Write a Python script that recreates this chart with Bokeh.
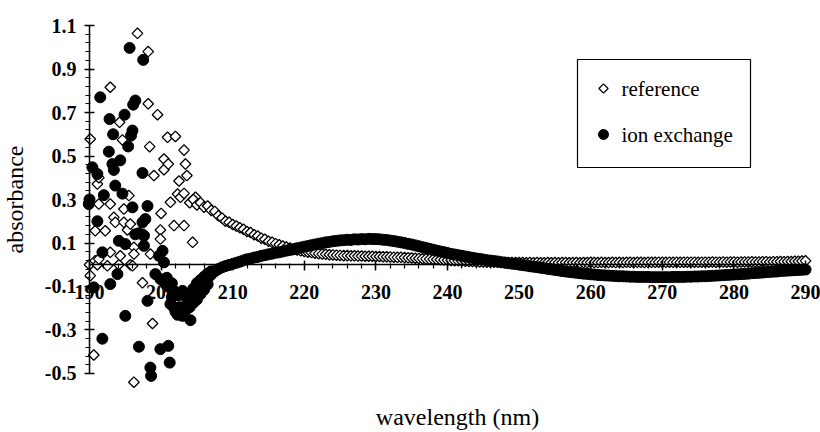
import numpy as np
from bokeh.plotting import figure
from bokeh.models import LinearAxis, FixedTicker, Range1d, Label, PrintfTickFormatter
from bokeh.core.properties import value
from bokeh.embed import file_html
from bokeh.resources import INLINE

# ---- data -------------------------------------------------------------
# Noisy low-wavelength region (190-205 nm), reference sample
ref_noise_x = [190.0, 190.1, 190.1, 190.6, 190.8, 190.8, 191.1, 191.1, 191.3, 191.3,
               191.3, 192.2, 192.5, 192.9, 192.9, 192.9, 193.4, 193.6, 194.1, 194.2,
               194.3, 194.6, 194.8, 194.8, 195.3, 195.5, 195.7, 195.7, 196.0, 196.2,
               196.2, 196.2, 196.7, 197.4, 197.6, 198.2, 198.2, 198.4, 198.5, 198.8,
               199.0, 199.5, 199.9, 199.9, 200.0, 200.4, 200.4, 200.9, 201.0, 201.3,
               201.8, 202.0, 202.3, 202.5, 202.7, 203.2, 203.2, 203.2, 203.4, 203.6,
               204.4, 204.8]
ref_noise_y = [0.000, -0.050, 0.578, -0.415, 0.018, 0.156, 0.000, 0.371, 0.400, 0.026,
               0.279, 0.156, -0.005, 0.816, 0.279, 0.057, 0.218, 0.195, 0.000, 0.655,
               0.041, 0.574, 0.256, 0.195, 0.160, 0.318, 0.187, 0.000, -0.005, 0.080,
               0.049, -0.540, 1.064, -0.083, 0.140, 0.980, 0.740, 0.543, 0.049, -0.270,
               0.410, 0.690, 0.160, 0.118, 0.236, 0.486, 0.437, 0.586, 0.463, 0.287,
               0.180, 0.590, 0.325, 0.385, 0.310, 0.527, 0.328, 0.180, 0.463, 0.410,
               0.103, 0.310]

# Noisy low-wavelength region (190-207 nm), ion exchange sample
ion_noise_x = [189.9, 190.0, 190.4, 190.6, 191.1, 191.1, 191.5, 191.8, 191.8, 192.0,
               192.7, 192.8, 192.9, 193.2, 193.3, 193.4, 193.6, 193.9, 194.1, 194.3,
               194.6, 194.9, 195.0, 195.0, 195.4, 195.6, 195.8, 196.0, 196.0, 196.1,
               196.4, 196.4, 196.9, 196.9, 197.4, 197.4, 197.5, 197.6, 197.6, 197.8,
               198.1, 198.1, 198.5, 198.6, 199.2, 199.7, 199.9, 199.9, 200.2, 200.4,
               200.6, 201.0, 201.2, 201.3, 201.5, 201.8, 201.8, 202.3, 202.4, 202.7,
               203.0, 203.0, 203.4, 203.5, 204.1, 202.0, 202.5, 203.0, 203.5, 204.0,
               204.5, 205.0, 205.5, 206.0, 206.5, 204.5, 205.0, 205.5, 206.0, 206.5,
               207.0, 201.0, 201.5, 200.8]
ion_noise_y = [0.279, 0.300, 0.448, -0.104, 0.417, 0.200, 0.770, 0.057, -0.340, 0.320,
               0.520, 0.670, -0.089, 0.463, 0.600, 0.436, 0.364, -0.043, 0.110, 0.480,
               0.327, 0.690, 0.095, -0.235, 0.544, 0.997, 0.594, 0.617, 0.264, 0.736,
               0.755, 0.140, 0.145, -0.377, 0.422, 0.195, 0.942, 0.087, 0.133, 0.210,
               0.270, -0.166, -0.473, -0.511, -0.043, 0.041, -0.066, -0.388, 0.064, 0.011,
               -0.089, -0.373, -0.450, -0.181, -0.150, -0.196, -0.120, -0.230, -0.140, -0.220,
               -0.196, -0.120, -0.210, -0.150, -0.255, -0.215, -0.195, -0.235, -0.205, -0.195,
               -0.175, -0.160, -0.135, -0.115, -0.090, -0.110, -0.085, -0.070, -0.055, -0.040,
               -0.030, -0.100, -0.085, -0.060]

# Smooth region, 204-290 nm sampled every 0.5 nm
wl_start, wl_step = 204.0, 0.5

ref_smooth = [0.285, 0.300, 0.275, 0.285, 0.265, 0.270, 0.250, 0.245, 0.225, 0.215,
              0.200, 0.195, 0.185, 0.178, 0.170, 0.163, 0.153, 0.148, 0.138, 0.132,
              0.122, 0.117, 0.108, 0.103, 0.097, 0.092, 0.086, 0.081, 0.077, 0.072,
              0.068, 0.064, 0.061, 0.058, 0.056, 0.053, 0.051, 0.049, 0.048, 0.046,
              0.045, 0.044, 0.043, 0.042, 0.042, 0.041, 0.041, 0.040, 0.040, 0.039,
              0.039, 0.039, 0.038, 0.038, 0.037, 0.037, 0.036, 0.035, 0.034, 0.034,
              0.033, 0.032, 0.031, 0.030, 0.029, 0.028, 0.027, 0.026, 0.025, 0.024,
              0.023, 0.022, 0.021, 0.020, 0.019, 0.018, 0.017, 0.016, 0.015, 0.015,
              0.014, 0.013, 0.013, 0.012, 0.012, 0.011, 0.011, 0.010, 0.010, 0.010,
              0.010, 0.010, 0.010, 0.010, 0.009, 0.010, 0.009, 0.010, 0.009, 0.009,
              0.010, 0.009, 0.010, 0.009, 0.010, 0.010, 0.009, 0.010, 0.010, 0.009,
              0.010, 0.010, 0.011, 0.010, 0.010, 0.011, 0.010, 0.010, 0.011, 0.010,
              0.011, 0.010, 0.011, 0.011, 0.010, 0.011, 0.011, 0.010, 0.011, 0.011,
              0.011, 0.012, 0.011, 0.011, 0.012, 0.011, 0.012, 0.011, 0.012, 0.012,
              0.012, 0.012, 0.011, 0.012, 0.012, 0.012, 0.013, 0.012, 0.012, 0.013,
              0.012, 0.013, 0.013, 0.012, 0.013, 0.013, 0.013, 0.014, 0.013, 0.013,
              0.014, 0.014, 0.013, 0.014, 0.014, 0.015, 0.014, 0.015, 0.015, 0.016,
              0.016, 0.017, 0.018]

ion_smooth = [-0.150, -0.130, -0.115, -0.100, -0.080, -0.065, -0.045, -0.030, -0.020, -0.012,
              -0.006, -0.001, 0.004, 0.009, 0.014, 0.020, 0.025, 0.028, 0.033, 0.036,
              0.041, 0.044, 0.048, 0.051, 0.055, 0.057, 0.061, 0.065, 0.068, 0.071,
              0.076, 0.079, 0.083, 0.086, 0.090, 0.093, 0.097, 0.099, 0.103, 0.105,
              0.108, 0.110, 0.112, 0.113, 0.115, 0.114, 0.117, 0.116, 0.118, 0.117,
              0.119, 0.118, 0.118, 0.117, 0.115, 0.114, 0.111, 0.109, 0.106, 0.103,
              0.100, 0.096, 0.093, 0.089, 0.085, 0.081, 0.077, 0.073, 0.069, 0.065,
              0.061, 0.058, 0.054, 0.050, 0.047, 0.044, 0.041, 0.038, 0.035, 0.032,
              0.029, 0.027, 0.024, 0.021, 0.019, 0.017, 0.015, 0.012, 0.010, 0.007,
              0.005, 0.003, 0.001, -0.002, -0.004, -0.007, -0.009, -0.011, -0.014, -0.016,
              -0.019, -0.021, -0.024, -0.026, -0.029, -0.031, -0.033, -0.035, -0.037, -0.039,
              -0.041, -0.042, -0.044, -0.045, -0.047, -0.048, -0.049, -0.050, -0.051, -0.052,
              -0.053, -0.053, -0.054, -0.055, -0.055, -0.056, -0.056, -0.056, -0.056, -0.057,
              -0.057, -0.057, -0.057, -0.057, -0.057, -0.056, -0.056, -0.056, -0.056, -0.055,
              -0.055, -0.054, -0.054, -0.053, -0.053, -0.052, -0.051, -0.050, -0.049, -0.048,
              -0.047, -0.046, -0.045, -0.044, -0.043, -0.042, -0.041, -0.039, -0.038, -0.037,
              -0.036, -0.034, -0.033, -0.032, -0.031, -0.029, -0.028, -0.027, -0.026, -0.025,
              -0.024, -0.023, -0.022]

x_ticks = [190, 200, 210, 220, 230, 240, 250, 260, 270, 280, 290]
y_ticks = [-0.5, -0.3, -0.1, 0.1, 0.3, 0.5, 0.7, 0.9, 1.1]
series_names = ["reference", "ion exchange"]

# ---- assemble series ----------------------------------------------------
smooth_wl = wl_start + wl_step * np.arange(len(ref_smooth))
ref_x = list(ref_noise_x) + list(smooth_wl)
ref_y = list(ref_noise_y) + list(ref_smooth)
ion_x = list(ion_noise_x) + list(smooth_wl)
ion_y = list(ion_noise_y) + list(ion_smooth)

SERIF = "Liberation Serif"
W, H = 820, 432

# The frame fills the whole canvas; the data ranges are chosen so that
# 190-290 nm and -0.5..1.1 land where the axes are drawn.
X0, X1 = 177.57, 292.09
Y0, Y1 = -0.7713, 1.215


def px_to_x(px):
    return X0 + px * (X1 - X0) / W


def py_to_y(py):
    return Y1 - py * (Y1 - Y0) / H


p = figure(width=W, height=H, output_backend="svg", toolbar_location=None,
           x_range=Range1d(X0, X1), y_range=Range1d(Y0, Y1),
           x_axis_location=None, y_axis_location=None,
           min_border=0, min_border_left=0, min_border_right=0,
           min_border_top=0, min_border_bottom=0)
p.outline_line_color = None
p.xgrid.visible = False
p.ygrid.visible = False
p.background_fill_color = "white"
p.border_fill_color = "white"

r_ref = p.scatter(ref_x, ref_y, marker="square", angle=np.pi / 4, size=7.5,
                  fill_color="white", line_color="black", line_width=1.3)
r_ion = p.scatter(ion_x, ion_y, marker="circle", size=11,
                  fill_color="black", line_color="black", line_width=1)

# x axis crossing at absorbance 0
xaxis = LinearAxis(fixed_location=0, bounds=(190, 290),
                   ticker=FixedTicker(ticks=x_ticks,
                                      minor_ticks=[190 + 2 * i for i in range(51)]))
# y axis at 190 nm
yaxis = LinearAxis(fixed_location=190, bounds=(-0.5, 1.1),
                   ticker=FixedTicker(ticks=y_ticks,
                                      minor_ticks=[round(-0.5 + 0.04 * i, 2) for i in range(41)]),
                   formatter=PrintfTickFormatter(format="%.1f"),
                   axis_label="absorbance")

for ax in (xaxis, yaxis):
    ax.axis_line_width = 1.5
    ax.axis_line_color = "black"
    ax.major_tick_line_width = 1.5
    ax.minor_tick_line_width = 1.2
    ax.major_tick_line_color = "black"
    ax.minor_tick_line_color = "black"
    ax.major_label_text_font = SERIF
    ax.major_label_text_font_size = "20px"
    ax.major_label_text_font_style = "bold"
    ax.major_label_text_color = "black"

xaxis.major_tick_in = 4
xaxis.major_tick_out = 6
xaxis.minor_tick_in = 1
xaxis.minor_tick_out = 4
xaxis.major_label_standoff = 14

yaxis.major_tick_in = 5
yaxis.major_tick_out = 5
yaxis.minor_tick_in = 1
yaxis.minor_tick_out = 4
yaxis.major_label_standoff = 8
yaxis.axis_label_text_font = SERIF
yaxis.axis_label_text_font_size = "24px"
yaxis.axis_label_text_font_style = "normal"
yaxis.axis_label_text_color = "black"
yaxis.axis_label_standoff = 14

p.add_layout(xaxis, "below")
p.add_layout(yaxis, "left")

p.add_layout(Label(x=px_to_x(457), y=py_to_y(416), text="wavelength (nm)",
                   text_align="center", text_baseline="middle", text_font=SERIF,
                   text_font_size="24px", text_color="black"))

# legend box with one row per series
box_l, box_r, box_t, box_b = 577, 750, 59, 167
p.quad(left=[px_to_x(box_l)], right=[px_to_x(box_r)],
       top=[py_to_y(box_t)], bottom=[py_to_y(box_b)],
       fill_color="white", line_color="black", line_width=1.2)
row_py = [88, 134]
p.scatter([px_to_x(603)], [py_to_y(row_py[0])], marker="square", angle=np.pi / 4,
          size=6.5, fill_color="white", line_color="black", line_width=1.3)
p.scatter([px_to_x(603)], [py_to_y(row_py[1])], marker="circle", size=10,
          fill_color="black", line_color="black")
p.text(x=[px_to_x(621)] * 2, y=[py_to_y(v) for v in row_py], text=series_names,
       text_font=value(SERIF), text_font_size="21px", text_color="black",
       text_align="left", text_baseline="middle")

open("out.html", "w").write(file_html(p, INLINE))
